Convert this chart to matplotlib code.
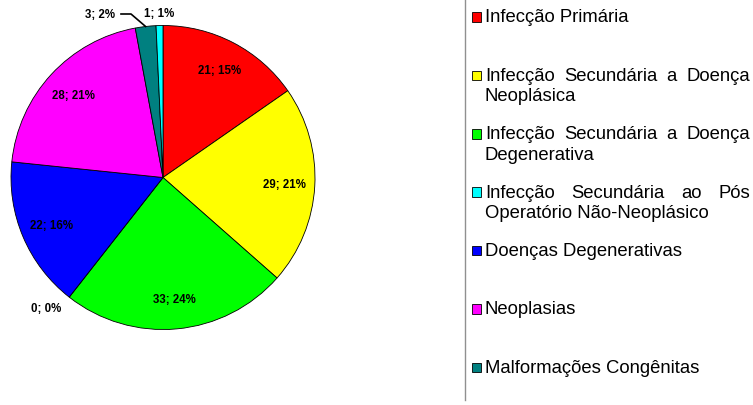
import numpy as np
import matplotlib.pyplot as plt
from matplotlib.patches import Rectangle

plt.rcParams['font.family'] = ['Liberation Sans', 'DejaVu Sans']

# dados
categorias = ['Infecção Primária',
              'Infecção Secundária a Doença\nNeoplásica',
              'Infecção Secundária a Doença\nDegenerativa',
              'Infecção Secundária ao Pós\nOperatório Não-Neoplásico',
              'Doenças Degenerativas',
              'Neoplasias',
              'Malformações Congênitas']
valores = [21, 29, 33, 0, 22, 28, 3, 1]
percentuais = [15, 21, 24, 0, 16, 21, 2, 1]
cores = ['#FF0000', '#FFFF00', '#00FF00', '#00FFFF',
         '#0000FF', '#FF00FF', '#008080', '#00FFFF']

W, H = 753, 406
fig = plt.figure(figsize=(W / 100, H / 100), dpi=100)
ax = fig.add_axes([0, 0, 1, 1])


def Y(py):
    # pixel (de cima) -> coordenada do eixo
    return H - py


cx, cy, r = 163, Y(178.5), 152
wedges, _ = ax.pie(valores, colors=cores, startangle=90, counterclock=False,
                   radius=r, center=(cx, cy), frame=True,
                   wedgeprops=dict(edgecolor='black', linewidth=0.6))
ax.set_xlim(0, W)
ax.set_ylim(0, H)
ax.set_aspect('auto')
ax.axis('off')

# rótulos das fatias
rotulo_kw = dict(fontsize=8.3, fontweight='bold', va='center')
for i, (w, v, p) in enumerate(zip(wedges, valores, percentuais)):
    txt = f'{v}; {p}%'
    ang = np.deg2rad((w.theta1 + w.theta2) / 2)
    ux, uy = np.cos(ang), np.sin(ang)
    if v == 0:
        ax.text(cx + 1.09 * r * ux, cy + 1.09 * r * uy, txt, ha='right', **rotulo_kw)
    elif i == 6:
        # rótulo arrastado com linha de chamada
        tx, ty = 100, Y(15)
        ex, ey = cx + r * ux, cy + r * uy
        ax.plot([tx + 21, tx + 31, ex], [ty, ty, ey], color='black', lw=1.2)
        ax.text(tx, ty, txt, ha='center', **rotulo_kw)
    elif p <= 2:
        ax.text(cx + 1.08 * r * ux, cy + 1.08 * r * uy, txt, ha='center', **rotulo_kw)
    else:
        ax.text(cx + 0.8 * r * ux, cy + 0.8 * r * uy, txt, ha='center', **rotulo_kw)

# legenda (texto justificado como no Excel)
ax.plot([465, 465], [Y(0), Y(401)], color='#909090', lw=1)
renderer = fig.canvas.get_renderer()
leg_kw = dict(fontsize=13.3, va='center', ha='left')
x0, x1 = 485, 750
for i, (nome, cor) in enumerate(zip(categorias, cores)):
    y = 18 + 58.4 * i
    ax.add_patch(Rectangle((472, Y(y) - 4.75), 9.5, 9.5, facecolor=cor,
                           edgecolor='black', lw=0.6))
    linhas = nome.split('\n')
    for j, linha in enumerate(linhas):
        yl = Y(y + 20.5 * j)
        if j < len(linhas) - 1:
            palavras = linha.split()
            objs = [ax.text(0, yl, p, **leg_kw) for p in palavras]
            larg = [o.get_window_extent(renderer).width for o in objs]
            gap = (x1 - x0 - sum(larg)) / (len(palavras) - 1)
            x = x0
            for o, lw_ in zip(objs, larg):
                o.set_x(x)
                x += lw_ + gap
        else:
            ax.text(x0, yl, linha, **leg_kw)

fig.savefig('out.png', dpi=100)
